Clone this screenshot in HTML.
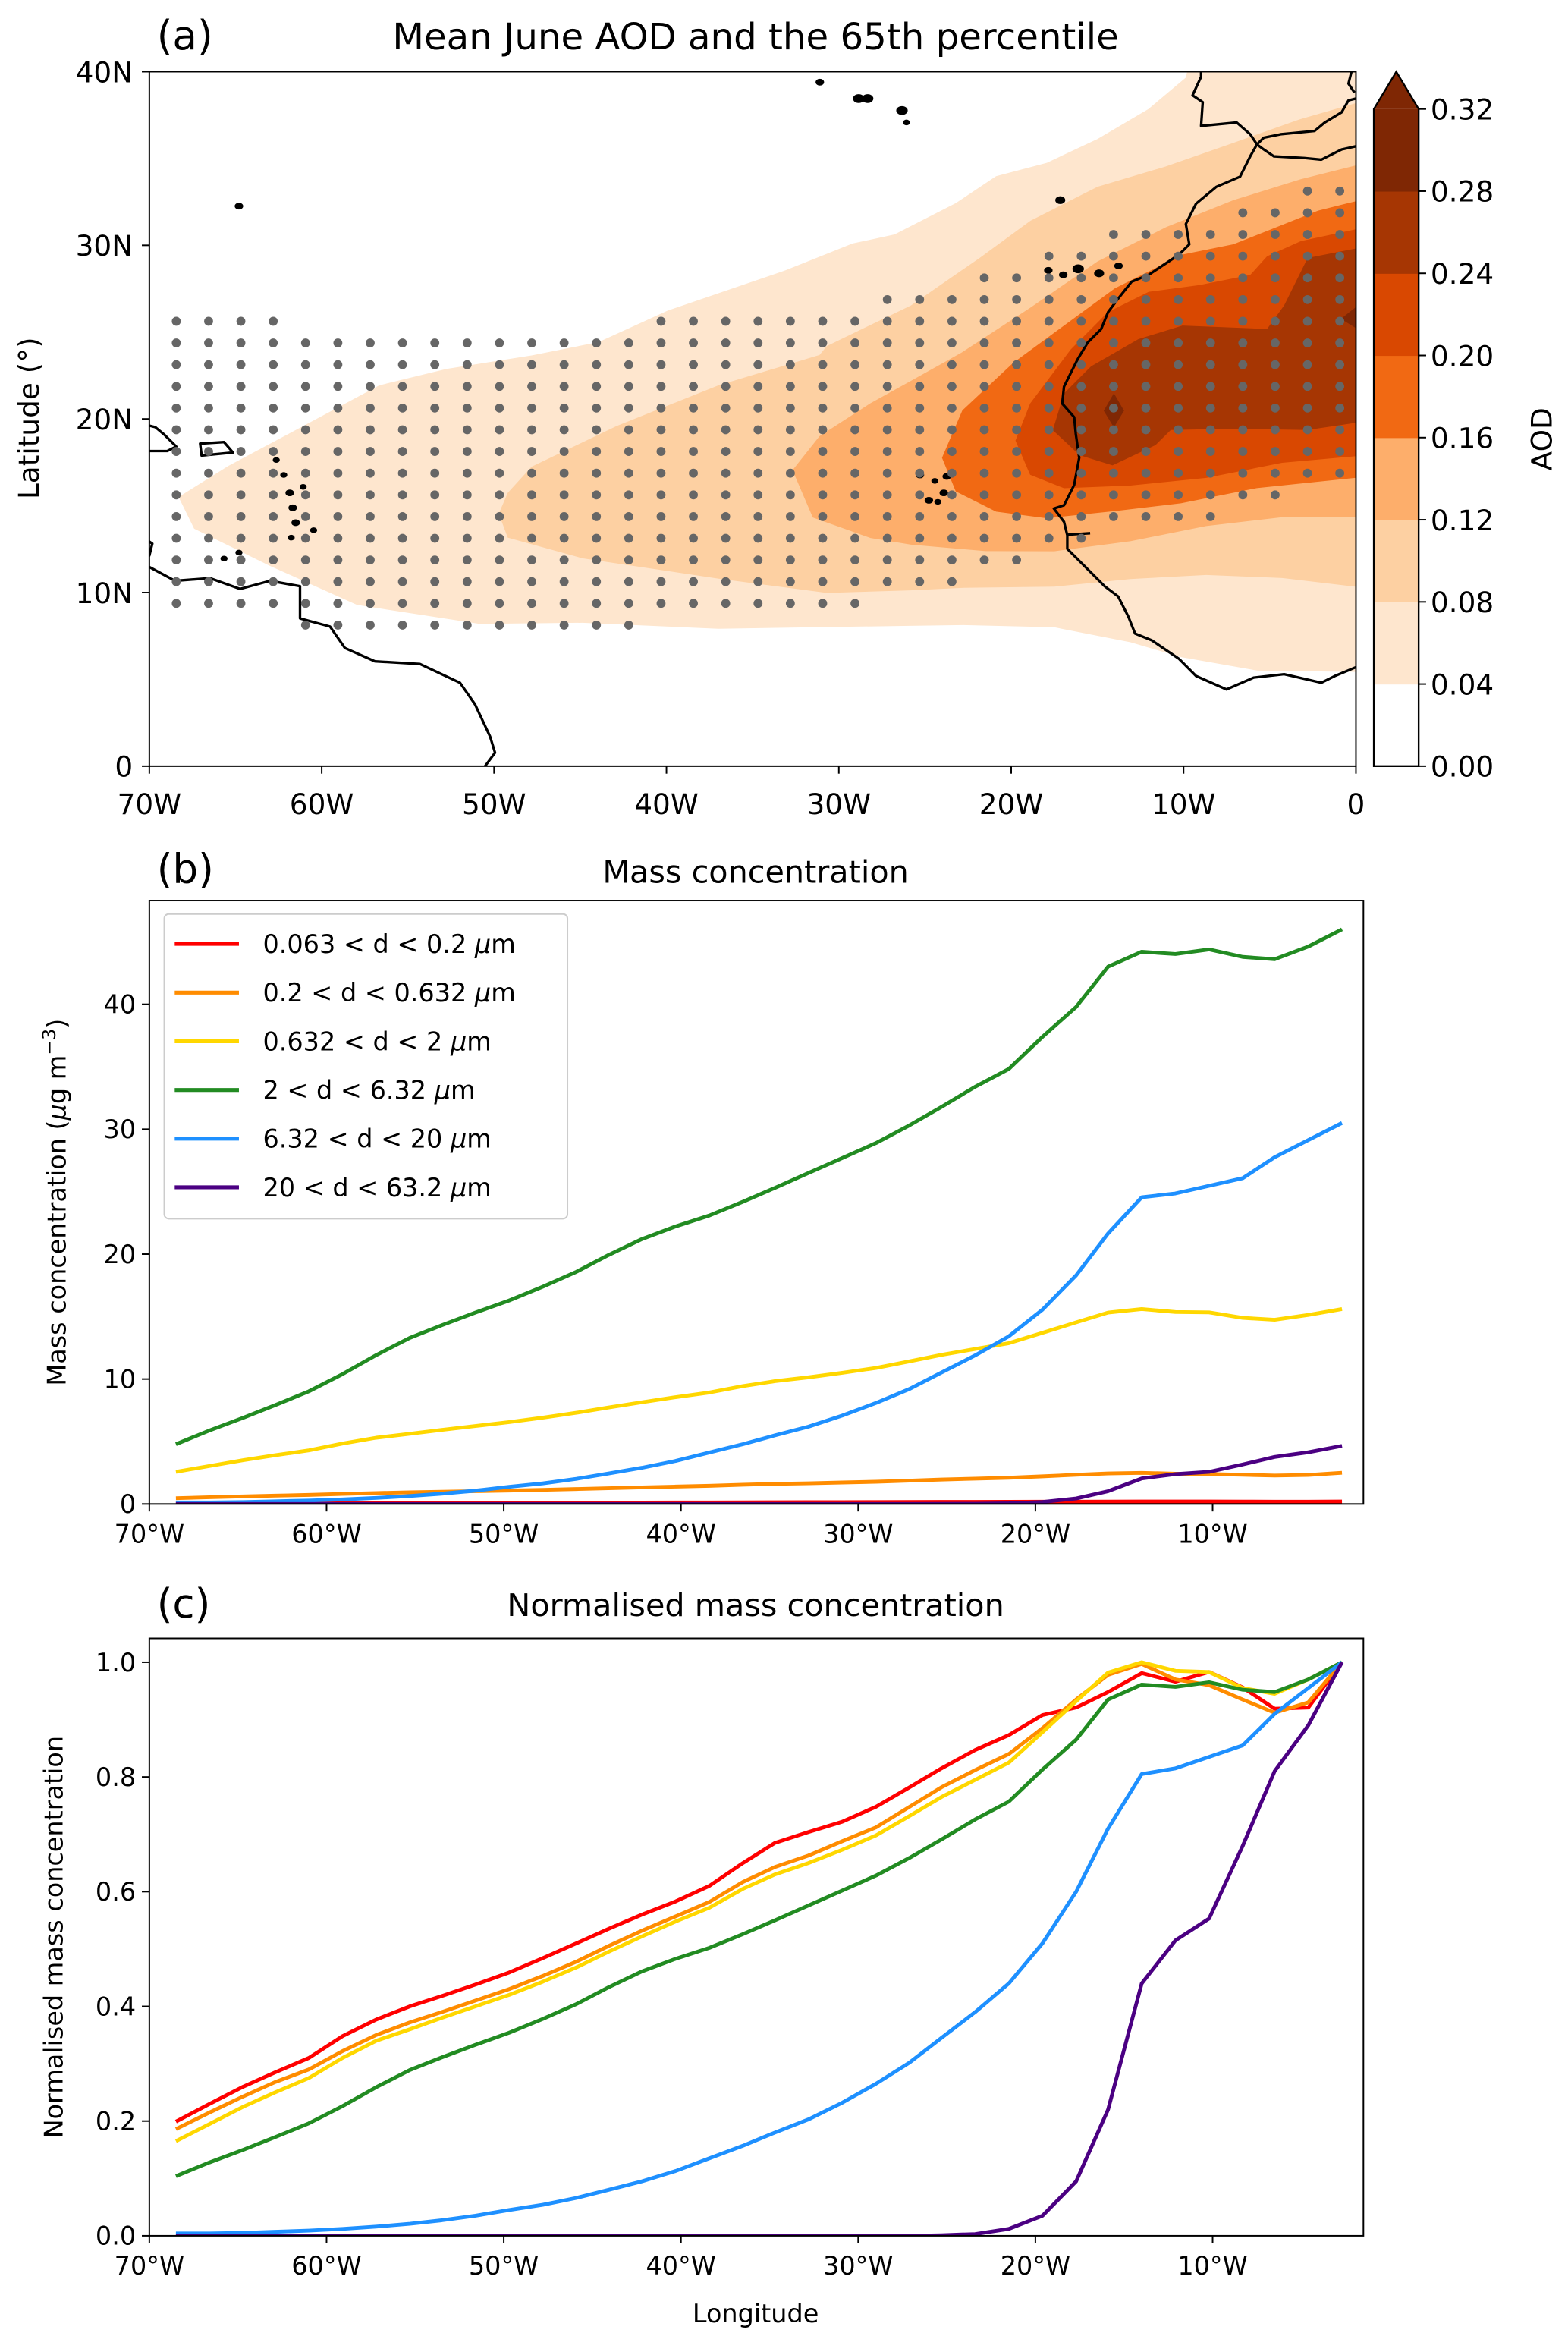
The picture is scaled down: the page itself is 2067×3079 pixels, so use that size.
<!DOCTYPE html>
<html><head><meta charset="utf-8">
<style>
html,body{margin:0;padding:0;background:#fff;}
svg{display:block;font-family:"DejaVu Sans","Liberation Sans",sans-serif;}
</style></head>
<body>
<svg id="fig" xmlns="http://www.w3.org/2000/svg" width="2067" height="3079" viewBox="0 0 1050 1564.1" preserveAspectRatio="none">
<defs>
<clipPath id="mapclip"><rect x="100" y="48" width="808" height="465"/></clipPath>
<clipPath id="bclip"><rect x="100" y="603" width="813" height="404"/></clipPath>
<clipPath id="cclip"><rect x="100" y="1097" width="813" height="400"/></clipPath>
</defs>
<rect x="0" y="0" width="1050" height="1564.1" fill="#fff"/>

<!-- Panel a -->
<g id="panelA">
<text x="105" y="33" font-size="27">(a)</text>
<text x="506" y="33" font-size="24.5" text-anchor="middle">Mean June AOD and the 65th percentile</text>
<g id="mapArea" clip-path="url(#mapclip)">
<g id="contours"></g>
<g id="coast" fill="none" stroke="#000" stroke-width="1.7" stroke-linejoin="round"></g>
<g id="dots" fill="#666"></g>
</g>
<rect x="100" y="48" width="808" height="465" fill="none" stroke="#000" stroke-width="1"/>
<g id="mapAxes" font-size="19"></g>
<text transform="translate(26,280) rotate(-90)" font-size="19" text-anchor="middle">Latitude (°)</text>
<g id="cbar"></g>
<text transform="translate(1039,294) rotate(-90)" font-size="19" text-anchor="middle">AOD</text>
</g>

<!-- Panel b -->
<g id="panelB">
<text x="105" y="591" font-size="27">(b)</text>
<text x="506" y="591" font-size="21" text-anchor="middle">Mass concentration</text>
<g id="bLines" clip-path="url(#bclip)"></g>
<rect x="100" y="603" width="813" height="404" fill="none" stroke="#000" stroke-width="1"/>
<g id="bAxes" font-size="17"></g>
<text transform="translate(44,805) rotate(-90)" font-size="17" text-anchor="middle">Mass concentration (<tspan font-style="italic">μ</tspan>g m<tspan font-size="12" dy="-7">−3</tspan><tspan dy="7">)</tspan></text>
<g id="legend"></g>
</g>

<!-- Panel c -->
<g id="panelC">
<text x="105" y="1083" font-size="27">(c)</text>
<text x="506" y="1082" font-size="21" text-anchor="middle">Normalised mass concentration</text>
<g id="cLines" clip-path="url(#cclip)"></g>
<rect x="100" y="1097" width="813" height="400" fill="none" stroke="#000" stroke-width="1"/>
<g id="cAxes" font-size="17"></g>
<text transform="translate(42,1297) rotate(-90)" font-size="17" text-anchor="middle">Normalised mass concentration</text>
<text x="506" y="1555" font-size="17" text-anchor="middle">Longitude</text>
</g>
</svg>

<script>
// ---------- chart data ----------
const lon = [-68.5,-66.6,-64.7,-62.9,-61.0,-59.1,-57.2,-55.3,-53.5,-51.6,-49.7,-47.8,-45.9,-44.1,-42.2,-40.3,-38.4,-36.5,-34.7,-32.8,-30.9,-29.0,-27.1,-25.3,-23.4,-21.5,-19.6,-17.7,-15.9,-14.0,-12.1,-10.2,-8.3,-6.5,-4.6,-2.7];
const normRed = [0.199,0.23,0.26,0.285,0.31,0.348,0.377,0.40,0.418,0.438,0.459,0.484,0.51,0.535,0.56,0.583,0.61,0.65,0.685,0.704,0.722,0.748,0.782,0.815,0.847,0.873,0.908,0.921,0.948,0.981,0.966,0.983,0.956,0.919,0.921,1.0];
const normOrange = [0.186,0.215,0.243,0.268,0.29,0.322,0.35,0.372,0.39,0.41,0.43,0.453,0.478,0.505,0.532,0.557,0.582,0.617,0.643,0.663,0.688,0.712,0.748,0.782,0.812,0.84,0.885,0.935,0.978,0.997,0.97,0.96,0.935,0.912,0.93,1.0];
const normYellow = [0.165,0.195,0.225,0.25,0.275,0.31,0.34,0.36,0.38,0.40,0.42,0.443,0.468,0.495,0.522,0.548,0.572,0.605,0.63,0.65,0.673,0.698,0.732,0.765,0.795,0.825,0.878,0.932,0.982,1.0,0.985,0.983,0.955,0.945,0.97,1.0];
const normGreen = [0.104,0.128,0.15,0.172,0.196,0.226,0.259,0.289,0.311,0.333,0.354,0.378,0.404,0.433,0.461,0.483,0.502,0.526,0.55,0.576,0.602,0.628,0.659,0.691,0.726,0.757,0.813,0.865,0.935,0.961,0.957,0.965,0.952,0.948,0.97,1.0];
const normBlue = [0.004,0.004,0.005,0.007,0.009,0.012,0.016,0.021,0.027,0.035,0.045,0.054,0.066,0.08,0.095,0.113,0.135,0.157,0.18,0.203,0.232,0.265,0.302,0.345,0.39,0.44,0.51,0.6,0.71,0.805,0.815,0.835,0.855,0.91,0.955,1.0];
const normPurple = [0,0,0,0,0,0,0,0,0,0,0,0,0,0,0,0,0,0,0,0,0,0,0,0.001,0.003,0.012,0.035,0.095,0.22,0.44,0.515,0.553,0.68,0.81,0.89,1.0];
const peakMass = [0.2, 2.5, 15.6, 46.0, 30.5, 4.65];
const seriesLabels = ["0.063 < d < 0.2 ", "0.2 < d < 0.632 ", "0.632 < d < 2 ", "2 < d < 6.32 ", "6.32 < d < 20 ", "20 < d < 63.2 "];
const lonTicks = [-70,-60,-50,-40,-30,-20,-10];
const lonTickLabels = ["70°W","60°W","50°W","40°W","30°W","20°W","10°W"];
const massTicks = [0,10,20,30,40];
const normTicks = [0,0.2,0.4,0.6,0.8,1.0];
const normTickLabels = ["0.0","0.2","0.4","0.6","0.8","1.0"];
const mapLonTicks = [-70,-60,-50,-40,-30,-20,-10,0];
const mapLonLabels = ["70W","60W","50W","40W","30W","20W","10W","0"];
const mapLatTicks = [0,10,20,30,40];
const mapLatLabels = ["0","10N","20N","30N","40N"];
const cbarLevels = [0,0.04,0.08,0.12,0.16,0.20,0.24,0.28,0.32];
const cbarLabels = ["0.00","0.04","0.08","0.12","0.16","0.20","0.24","0.28","0.32"];
const stippleLat = [33.125,31.875,30.625,29.375,28.125,26.875,25.625,24.375,23.125,21.875,20.625,19.375,18.125,16.875,15.625,14.375,13.125,11.875,10.625,9.375,8.125];
const stippleSeg = [[[35,36]],[[33,36]],[[29,36]],[[27,36]],[[25,36]],[[22,36]],[[0,3],[15,36]],[[0,36]],[[0,36]],[[0,36]],[[0,36]],[[0,36]],[[0,36]],[[0,36]],[[0,34]],[[0,32]],[[0,28]],[[0,26]],[[0,24]],[[0,21]],[[4,14]]];

const colors = ["#ff0000","#ff8c00","#ffd700","#228b22","#1e90ff","#4b0082"];
const seriesNames = ["red","orange","yellow","green","blue","purple"];
const normSeries = [normRed,normOrange,normYellow,normGreen,normBlue,normPurple];
const cmap = ["#ffffff","#fee6ce","#fdd0a2","#fdae6b","#f16913","#d94801","#a63603","#7f2704"];

const NS = "http://www.w3.org/2000/svg";
function mk(tag, parent){ const e=document.createElementNS(NS,tag); parent.appendChild(e); return e; }

const bx = l => 100 + (l + 70) * 11.867;
const by = v => 1007 - v * (404 / 48.3);
const cy = v => 1497 - v * (400 / 1.0416);
const mx = l => 100 + (l + 70) * 808 / 70;
const my = la => 513 - la * 465 / 40;

const bands = [
 [[119.6,332.8],[153,311.9],[209.7,281.7],[254,258],[299,247],[356,238],[401,229],[447,208],[526,181],[571,163],[599,157],[640,136],[667,118],[701,109],[735,93],[769,73],[794,52],[797,40],[915,40],[915,450],[842,449],[791,440],[757,430],[706,420],[645,418.5],[609,419],[481,421],[390,417],[321,417.7],[239,405],[181,379],[130,354]],
 [[334,344],[340,330],[356,312.5],[412.8,285.3],[480.8,258.1],[548.8,237.7],[553.7,231.7],[610,204.5],[656,172.7],[690,147.8],[735,125],[780.5,111.5],[826,95.6],[870,80],[915,67],[915,393.7],[858.5,387],[807.7,385],[756.9,387.7],[706,392.8],[644,393.6],[609.6,395.3],[553.7,397],[480.8,387.4],[390,373.8],[340,360]],
 [[530.7,314.8],[548.8,292],[582.9,270],[610,255],[644,236],[690,206],[735,175],[781,152],[826,134],[871,120],[915,109],[915,346.3],[858.5,346.3],[807.7,352.2],[756.9,362.4],[706,369.1],[660,369],[610,364.7],[582.9,360.2],[544.3,346.5]],
 [[630.8,306.5],[644.4,274.8],[678.4,243],[712.5,218],[746.5,193.1],[791.8,170.4],[825.9,163.6],[848.5,154.6],[882.6,141],[915,133],[915,319.2],[841.6,326.8],[790.8,337],[748.4,342],[701,347],[667,342.6],[640,329]],
 [[680,295],[689.8,270.2],[717,234],[741.9,209],[769.2,195.4],[803.2,190.9],[837.2,184.1],[848.5,171.6],[871.2,161.4],[915,152],[915,304.8],[858.5,309.9],[807.7,320],[756.9,325.1],[712.5,326.9],[689.8,317.9]],
 [[705,288],[712.5,263.4],[730.6,245.3],[762.3,227.1],[791.8,218],[848.5,220.3],[859.9,204.5],[875.7,172.7],[915,165],[915,282],[875.4,287.9],[824.6,287],[784,287.9],[773.8,298],[745,311.6],[723,304.8]],
 [[745.9,263.3],[752.7,275],[745.9,286.2],[739.1,275]]
];
const cg = document.getElementById('contours');
bands.forEach((pts,i)=>{
  const p = mk('polygon', cg);
  p.setAttribute('points', pts.map(q=>q.join(',')).join(' '));
  p.setAttribute('fill', cmap[i+1]);
  
  
});
{ const p = mk('polygon', cg);
  p.setAttribute('points','898,213.5 915,200 915,224');
  p.setAttribute('fill', cmap[7]);
  
   }

const coastPaths = [
 "M804.3,46 L804.3,51.4 L798.6,63.8 L805.4,68.4 L804.3,84.3 L828.1,82 L837.2,89.9 L841.7,96.7 L837.2,104.7 L830.4,118.3 L814.5,125.1 L800.9,136.4 L794.1,150 L796.4,163.6 L789.6,170.4 L769.2,184 L757.8,188.6 L748.8,199.9 L742,209 L737.4,220.3 L728.3,229.4 L721.5,240.8 L717,249.8 L712.5,258.9 L711.3,270.2 L719.3,279.3 L720.4,290.6 L722.7,306.5 L719.3,324.7 L712.5,338.3 L705.7,340.5 L712.5,349.4 L714.7,358.4 L714.7,367.5 L723.8,376.6 L730.6,383.4 L739.7,392.5 L748.7,399.3 L755.6,412.9 L760.1,424.2 L771.4,428.8 L789.6,441.2 L800.9,452.6 L821.3,461.6 L839.5,453.7 L859.9,451.4 L884.8,457.1 L893.9,452.6 L907.5,446.9 L912,445",
 "M841.7,96.7 L846.3,92.2 L857.6,89.9 L880.3,87.7 L887.1,82 L898.4,75.2 L903,67.2 L912,65",
 "M841.7,96.7 L846.3,100.1 L853.1,104.7 L873.5,105.8 L884.8,106.9 L898.4,100.1 L912,97",
 "M905,48 L903,56 L907,62",
 "M715,358 L730,357",
 "M96,379.9 L100.5,379.9 L117.2,388.9 L140.6,387.1 L160.7,394.3 L180.8,388.9 L200.9,392.5 L200.9,414.1 L221,419.5 L231,433.9 L251.1,442.8 L281.3,444.6 L308.1,457.2 L318.1,471.6 L328.2,493.2 L331.5,504 L324.8,513 L320,518",
 "M96,284 L104,286 L110,291 L118,299 L112,302 L100,302 L96,303",
 "M134,297 L150,296 L156,303 L135,305 Z",
 "M96,360 L102,364 L100,372 L96,374"
];
const coastG = document.getElementById('coast');
coastPaths.forEach((d,i)=>{
  const p = mk('path', coastG);
  p.setAttribute('d', d);
  
  
});
const islands = [[160,138,2],[549,55],[575,66,3],[581,66,3],[604,74,3],[607,82,1.5],[710,134,2.5],
  [702,181,2],[712,184,2],[722,180,3],[736,183,2.5],[749,178,2],
  [616,318,2],[626,322,1.5],[634,319,2],[632,330,2],[622,335,2],[628,336,1.5],
  [185,308,1.5],[190,318,1.5],[194,330,2],[196,340,2],[198,350,2],[195,360,1.5],[203,326,1.5],[210,355,1.5],
  [150,374,1.5],[160,370,1.5]];
islands.forEach((c,i)=>{
  const e = mk('ellipse', coastG);
  e.setAttribute('cx', c[0]); e.setAttribute('cy', c[1]);
  e.setAttribute('rx', c[2]||2); e.setAttribute('ry', (c[2]||2)*0.7);
  e.setAttribute('fill','#000');
  
  
});

const dg = document.getElementById('dots');
stippleLat.forEach((la,ri)=>{
  stippleSeg[ri].forEach(seg=>{
    for(let k=seg[0];k<=seg[1];k++){
      const c = mk('circle', dg);
      c.setAttribute('cx', mx(-68.4375 + 1.875*k));
      c.setAttribute('cy', my(la));
      c.setAttribute('r', 3);
      
      
    }
  });
});

const ma = document.getElementById('mapAxes');
mapLonTicks.forEach((t,i)=>{
  const l = mk('line', ma);
  l.setAttribute('x1', mx(t)); l.setAttribute('x2', mx(t)); l.setAttribute('y1', 513); l.setAttribute('y2', 518);
  l.setAttribute('stroke','#000'); l.setAttribute('stroke-width','1');
  
  
  const tx = mk('text', ma);
  tx.setAttribute('x', mx(t)); tx.setAttribute('y', 545); tx.setAttribute('text-anchor','middle');
  tx.textContent = mapLonLabels[i];
  
  
});
mapLatTicks.forEach((t,i)=>{
  const l = mk('line', ma);
  l.setAttribute('x1', 95); l.setAttribute('x2', 100); l.setAttribute('y1', my(t)); l.setAttribute('y2', my(t));
  l.setAttribute('stroke','#000'); l.setAttribute('stroke-width','1');
  
  
  const tx = mk('text', ma);
  tx.setAttribute('x', 89); tx.setAttribute('y', my(t)+7); tx.setAttribute('text-anchor','end');
  tx.textContent = mapLatLabels[i];
  
  
});

const cb = document.getElementById('cbar');
const cbY = v => 513 - v * (440 / 0.32);
for(let i=0;i<cbarLevels.length-1;i++){
  const r = mk('rect', cb);
  r.setAttribute('x', 920); r.setAttribute('width', 30);
  r.setAttribute('y', cbY(cbarLevels[i+1])); r.setAttribute('height', cbY(cbarLevels[i]) - cbY(cbarLevels[i+1]) + 0.3);
  r.setAttribute('fill', cmap[i]);
  
  
}
{ const tri = mk('polygon', cb);
  tri.setAttribute('points', '920,'+cbY(0.32)+' 935,48 950,'+cbY(0.32));
  tri.setAttribute('fill', '#7f2704');
  
  
  const o = mk('polygon', cb);
  o.setAttribute('points', '920,513 920,'+cbY(0.32)+' 935,48 950,'+cbY(0.32)+' 950,513');
  o.setAttribute('fill','none'); o.setAttribute('stroke','#000'); o.setAttribute('stroke-width','1.2');
  
   }
cbarLevels.forEach((v,i)=>{
  const l = mk('line', cb);
  l.setAttribute('x1', 950); l.setAttribute('x2', 955); l.setAttribute('y1', cbY(v)); l.setAttribute('y2', cbY(v));
  l.setAttribute('stroke','#000'); l.setAttribute('stroke-width','1');
  
  
  const tx = mk('text', cb);
  tx.setAttribute('x', 958); tx.setAttribute('y', cbY(v)+7); tx.setAttribute('font-size','19');
  tx.textContent = cbarLabels[i];
  
  
});

function lonAxis(g, y0, labY){
  lonTicks.forEach((t,i)=>{
    const l = mk('line', g);
    l.setAttribute('x1', bx(t)); l.setAttribute('x2', bx(t)); l.setAttribute('y1', y0); l.setAttribute('y2', y0+5);
    l.setAttribute('stroke','#000'); l.setAttribute('stroke-width','1');
    
    
    const tx = mk('text', g);
    tx.setAttribute('x', bx(t)); tx.setAttribute('y', labY); tx.setAttribute('text-anchor','middle');
    tx.textContent = lonTickLabels[i];
    
    
  });
}
function yAxis(g, ticks, labels, yf){
  ticks.forEach((t,i)=>{
    const l = mk('line', g);
    l.setAttribute('x1', 95); l.setAttribute('x2', 100); l.setAttribute('y1', yf(t)); l.setAttribute('y2', yf(t));
    l.setAttribute('stroke','#000'); l.setAttribute('stroke-width','1');
    
    
    const tx = mk('text', g);
    tx.setAttribute('x', 91); tx.setAttribute('y', yf(t)+6); tx.setAttribute('text-anchor','end');
    tx.textContent = labels[i];
    
    
  });
}
const bA = document.getElementById('bAxes'), cA = document.getElementById('cAxes');
lonAxis(bA, 1007, 1033);
yAxis(bA, massTicks, massTicks.map(String), by);
lonAxis(cA, 1497, 1523);
yAxis(cA, normTicks, normTickLabels, cy);

const bL = document.getElementById('bLines'), cL = document.getElementById('cLines');
normSeries.forEach((arr,s)=>{
  const pb = mk('polyline', bL);
  pb.setAttribute('points', arr.map((v,i)=> bx(lon[i]).toFixed(2)+','+by(v*peakMass[s]).toFixed(2)).join(' '));
  pb.setAttribute('fill','none'); pb.setAttribute('stroke', colors[s]); pb.setAttribute('stroke-width','2.5'); pb.setAttribute('stroke-linejoin','round');
  
  
  const pc = mk('polyline', cL);
  pc.setAttribute('points', arr.map((v,i)=> bx(lon[i]).toFixed(2)+','+cy(v).toFixed(2)).join(' '));
  pc.setAttribute('fill','none'); pc.setAttribute('stroke', colors[s]); pc.setAttribute('stroke-width','2.5'); pc.setAttribute('stroke-linejoin','round');
  
  
});

const lg = document.getElementById('legend');
{ const r = mk('rect', lg);
  r.setAttribute('x',110); r.setAttribute('y',612); r.setAttribute('width',270); r.setAttribute('height',204); r.setAttribute('rx',3);
  r.setAttribute('fill','#fff'); r.setAttribute('fill-opacity','0.8'); r.setAttribute('stroke','#ccc'); r.setAttribute('stroke-width','1');
  
   }
seriesLabels.forEach((lab,s)=>{
  const yy = 632 + s*32.6;
  const l = mk('line', lg);
  l.setAttribute('x1',117); l.setAttribute('x2',160); l.setAttribute('y1',yy); l.setAttribute('y2',yy);
  l.setAttribute('stroke', colors[s]); l.setAttribute('stroke-width','2.6');
  
  
  const tx = mk('text', lg);
  tx.setAttribute('x',176); tx.setAttribute('y',yy+6); tx.setAttribute('font-size','17');
  
  
  tx.appendChild(document.createTextNode(lab));
  const mu = mk('tspan', tx); mu.setAttribute('font-style','italic'); mu.textContent = 'μ';
  tx.appendChild(document.createTextNode('m'));
});
</script>
</body></html>
